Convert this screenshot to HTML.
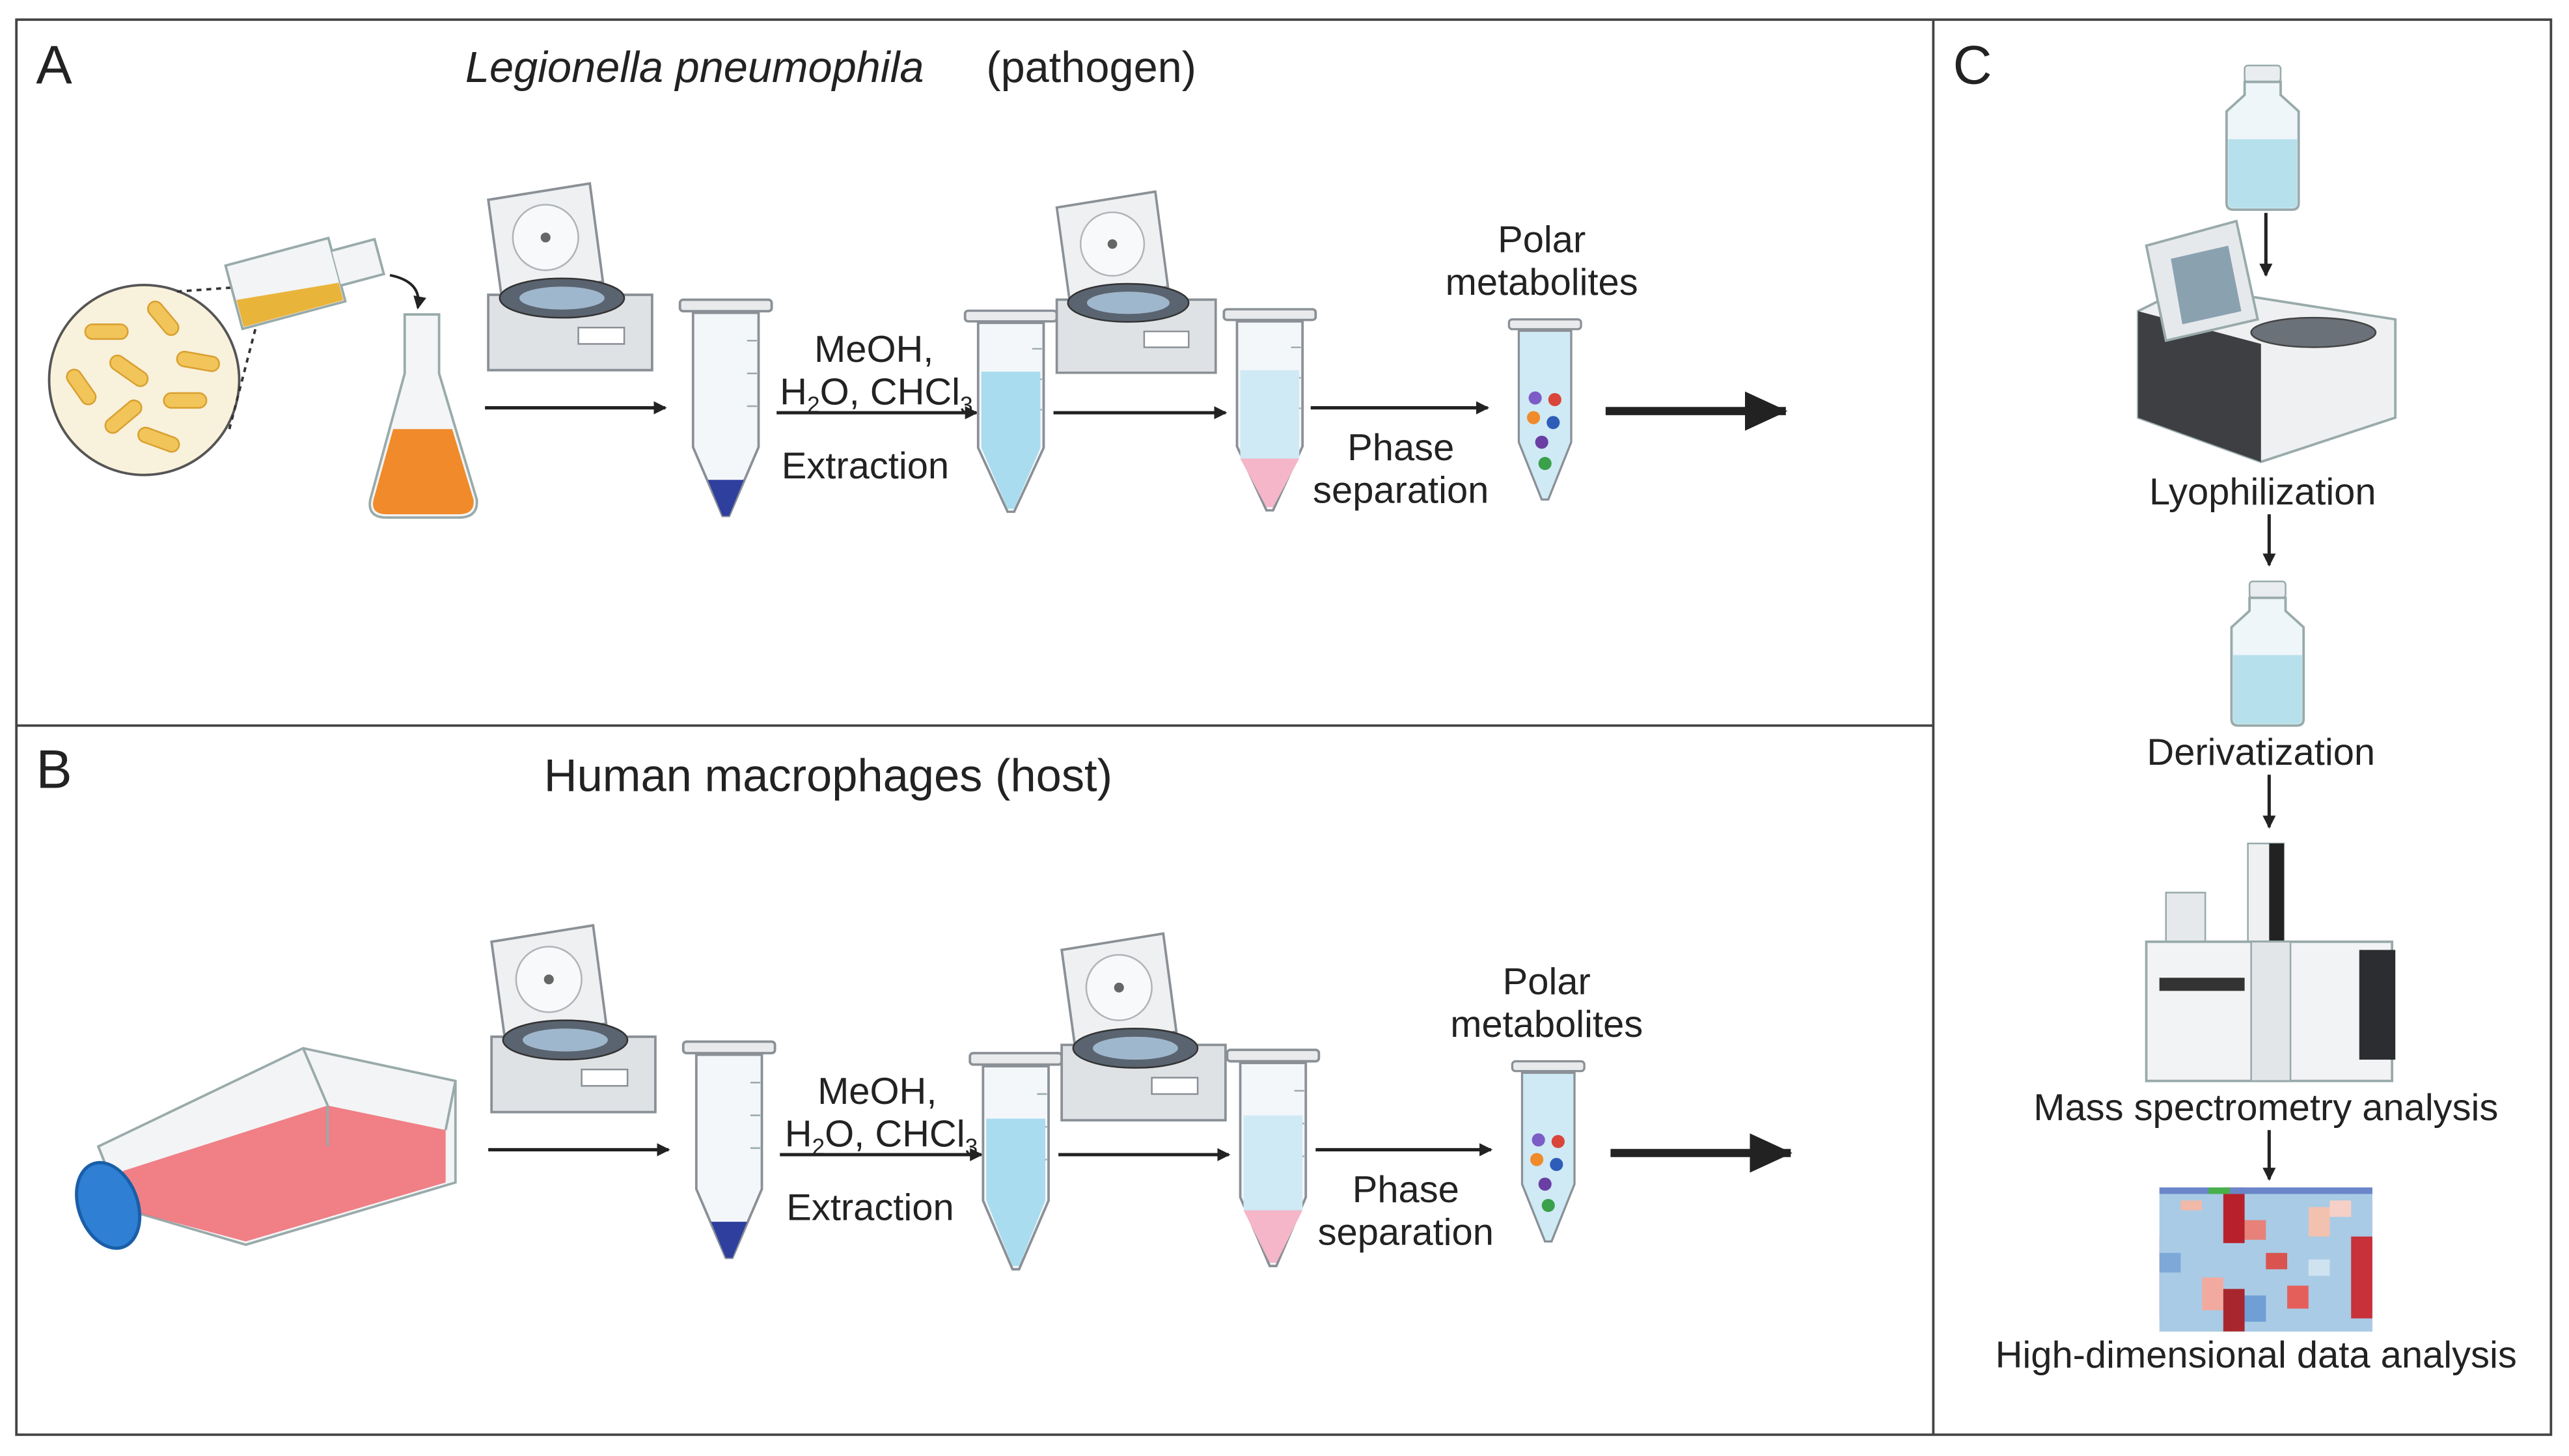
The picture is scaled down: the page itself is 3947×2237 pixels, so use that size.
<!DOCTYPE html>
<html><head><meta charset="utf-8"><style>
html,body{margin:0;padding:0;background:#fff;}
svg{display:block;}
text{font-family:"Liberation Sans",Arial,sans-serif;fill:#222;}
</style></head><body>
<svg width="3947" height="2237" viewBox="0 0 1568 889" preserveAspectRatio="none" xmlns="http://www.w3.org/2000/svg">
<defs>
<marker id="ah" markerWidth="8" markerHeight="8" refX="7" refY="4" orient="auto" markerUnits="userSpaceOnUse"><path d="M0,0 L8,4 L0,8 z" fill="#222"/></marker>
<marker id="ahb" markerWidth="26" markerHeight="24" refX="25" refY="12" orient="auto" markerUnits="userSpaceOnUse"><path d="M0,0 L26,12 L0,24 z" fill="#222"/></marker>
<g id="tube">
 <rect x="-3" y="0" width="56" height="7" rx="2" fill="#e8eaec" stroke="#8a9096" stroke-width="1.5"/>
 <path d="M5,8 L45,8 L45,90 L27,132 L23,132 L5,90 Z" fill="#f4f7fa" stroke="#8a9096" stroke-width="1.5"/>
 <line x1="38" y1="25" x2="44" y2="25" stroke="#9aa" /><line x1="38" y1="45" x2="44" y2="45" stroke="#9aa"/><line x1="38" y1="65" x2="44" y2="65" stroke="#9aa"/>
</g>
<g id="tubeB"><use href="#tube"/><path d="M14,110 L36,110 L27,132 L23,132 Z" fill="#2e3f9e"/></g>
<g id="tubeL"><use href="#tube"/><path d="M7,40 L43,40 L43,90 L27,130 L23,130 L7,90 Z" fill="#a9dcef"/></g>
<g id="tubeP"><use href="#tube"/><path d="M7,40 L43,40 L43,98 L7,98 Z" fill="#cfeaf5"/><path d="M7,98 L43,98 L27,130 L23,130 Z" fill="#f4b6c8"/></g>
<g id="tubeS">
 <rect x="-2" y="0" width="44" height="6" rx="2" fill="#e8eaec" stroke="#8a9096" stroke-width="1.3"/>
 <path d="M4,7 L36,7 L36,75 L22,110 L18,110 L4,75 Z" fill="#cfeaf5" stroke="#8a9096" stroke-width="1.3"/>
 <circle cx="14" cy="48" r="4" fill="#7c5cc7"/><circle cx="26" cy="49" r="4" fill="#d9453a"/>
 <circle cx="13" cy="60" r="4" fill="#f08a2a"/><circle cx="25" cy="63" r="4" fill="#2d5db8"/>
 <circle cx="18" cy="75" r="4" fill="#6a3fa3"/><circle cx="20" cy="88" r="4" fill="#3aa04a"/>
</g>
<g id="cent">
 <path d="M0,10 L62,0 L70,60 L8,68 Z" fill="#eef0f2" stroke="#8a9096" stroke-width="1.5"/>
 <circle cx="35" cy="33" r="20" fill="#f8f9fa" stroke="#b0b4b8"/><circle cx="35" cy="33" r="3" fill="#666"/>
 <path d="M0,68 L100,68 L100,114 L0,114 Z" fill="#dfe2e5" stroke="#8a9096" stroke-width="1.5"/>
 <ellipse cx="45" cy="70" rx="38" ry="12" fill="#5a6470" stroke="#333"/>
 <ellipse cx="45" cy="70" rx="26" ry="7" fill="#9fb7cc"/>
 <rect x="55" y="88" width="28" height="10" fill="#fff" stroke="#8a9096"/>
</g>
<g id="bottle">
 <rect x="13" y="0" width="22" height="10" rx="2" fill="#e9edef" stroke="#9aa"/>
 <path d="M13,10 L35,10 L35,18 L46,28 L46,84 Q46,88 42,88 L6,88 Q2,88 2,84 L2,28 L13,18 Z" fill="#eef6f9" stroke="#9aa" stroke-width="1.5"/>
 <path d="M3,45 L45,45 L45,84 Q45,87 42,87 L6,87 Q3,87 3,84 Z" fill="#b6e0ec"/>
</g>
<pattern id="hm" x="1318" y="725" width="130" height="88" patternUnits="userSpaceOnUse">
 <rect width="130" height="88" fill="#a9cbe6"/>
 <rect x="0" y="0" width="130" height="4" fill="#6a86c8"/>
 <rect x="30" y="0" width="13" height="4" fill="#48b04a"/>
 <rect x="13" y="8" width="13" height="6" fill="#f2b9a8"/><rect x="39" y="4" width="13" height="30" fill="#b8212b"/>
 <rect x="52" y="20" width="13" height="12" fill="#e7817a"/><rect x="91" y="12" width="13" height="18" fill="#f3c1b0"/>
 <rect x="117" y="30" width="13" height="50" fill="#c8303a"/><rect x="65" y="40" width="13" height="10" fill="#d9534f"/>
 <rect x="26" y="55" width="13" height="20" fill="#f2aaa0"/><rect x="0" y="40" width="13" height="12" fill="#7ea8d8"/>
 <rect x="78" y="60" width="13" height="14" fill="#e55f5a"/><rect x="104" y="8" width="13" height="10" fill="#f6d0c6"/>
 <rect x="52" y="66" width="13" height="16" fill="#6f9fd5"/><rect x="91" y="44" width="13" height="10" fill="#cfe2f0"/>
 <rect x="39" y="62" width="13" height="26" fill="#a8262e"/>
</pattern>
</defs>

<rect x="10" y="12" width="1547" height="864" fill="none" stroke="#444" stroke-width="1.5"/>
<line x1="1180" y1="12" x2="1180" y2="876" stroke="#444" stroke-width="1.5"/>
<line x1="10" y1="443" x2="1180" y2="443" stroke="#444" stroke-width="1.5"/>

<!-- Panel A -->
<text x="22" y="51" font-size="33">A</text>
<text x="284" y="50" font-size="26.5" font-style="italic">Legionella pneumophila</text>
<text x="602" y="50" font-size="26.5">(pathogen)</text>
<circle cx="88" cy="232" r="58" fill="#f8f1dc" stroke="#555" stroke-width="1.5"/>
<g fill="#f1c55a" stroke="#d9a030" stroke-width="1">
<rect x="52" y="198" width="26" height="9" rx="4.5"/><rect x="88" y="190" width="24" height="9" rx="4.5" transform="rotate(50 100 194)"/>
<rect x="108" y="216" width="26" height="9" rx="4.5" transform="rotate(10 120 220)"/><rect x="66" y="222" width="26" height="9" rx="4.5" transform="rotate(35 79 226)"/>
<rect x="38" y="232" width="24" height="9" rx="4.5" transform="rotate(55 50 236)"/><rect x="100" y="240" width="26" height="9" rx="4.5"/>
<rect x="62" y="250" width="26" height="9" rx="4.5" transform="rotate(-40 75 254)"/><rect x="84" y="264" width="26" height="9" rx="4.5" transform="rotate(20 97 268)"/>
</g>
<line x1="108" y1="178" x2="150" y2="175" stroke="#333" stroke-dasharray="3,3" stroke-width="1.5"/>
<line x1="140" y1="262" x2="160" y2="185" stroke="#333" stroke-dasharray="3,3" stroke-width="1.5"/>
<g transform="rotate(-15 185 165)">
<path d="M140,150 L205,150 L205,190 L140,190 Z" fill="#f2f4f5" stroke="#9aa" stroke-width="1.5"/>
<path d="M205,158 L232,158 L232,180 L205,180" fill="#f2f4f5" stroke="#9aa" stroke-width="1.5"/>
<path d="M141,172 L204,178 L204,189 L141,189 Z" fill="#e9b43a"/>
</g>
<path d="M238,168 Q258,172 255,188" fill="none" stroke="#222" stroke-width="1.5" marker-end="url(#ah)"/>
<path d="M247,192 L268,192 L268,228 L291,305 Q292,316 280,316 L236,316 Q224,316 226,305 L247,228 Z" fill="#f3f5f6" stroke="#9aa" stroke-width="1.5"/>
<path d="M240,262 L276,262 L289,305 Q290,314 280,314 L236,314 Q226,314 228,305 Z" fill="#f08a2a"/>
<use href="#cent" x="298" y="112"/>
<line x1="296" y1="249" x2="406" y2="249" stroke="#222" stroke-width="2" marker-end="url(#ah)"/>
<use href="#tubeB" x="418" y="183"/>
<text x="497" y="221" font-size="23">MeOH,</text>
<text x="476" y="247" font-size="23">H<tspan font-size="14" dy="5">2</tspan><tspan dy="-5">O, CHCl</tspan><tspan font-size="14" dy="5">3</tspan></text>
<line x1="474" y1="252" x2="596" y2="252" stroke="#222" stroke-width="2" marker-end="url(#ah)"/>
<text x="477" y="292" font-size="23">Extraction</text>
<use href="#tubeL" x="592" y="190" transform="scale(1,0.93) translate(0,14)"/>
<use href="#cent" x="645" y="117" transform="translate(645 117) scale(0.97) translate(-645 -117)"/>
<line x1="643" y1="252" x2="748" y2="252" stroke="#222" stroke-width="2" marker-end="url(#ah)"/>
<use href="#tubeP" x="750" y="188" transform="translate(0,14) scale(1,0.93)"/>
<line x1="800" y1="249" x2="908" y2="249" stroke="#222" stroke-width="2" marker-end="url(#ah)"/>
<text x="855" y="281" font-size="23" text-anchor="middle">Phase</text>
<text x="855" y="307" font-size="23" text-anchor="middle">separation</text>
<text x="941" y="154" font-size="23" text-anchor="middle">Polar</text>
<text x="941" y="180" font-size="23" text-anchor="middle">metabolites</text>
<use href="#tubeS" x="923" y="195"/>
<line x1="980" y1="251" x2="1090" y2="251" stroke="#222" stroke-width="5" marker-end="url(#ahb)"/>

<!-- Panel B -->
<text x="22" y="481" font-size="33">B</text>
<text x="332" y="483" font-size="28">Human macrophages (host)</text>
<path d="M60,700 L185,640 L278,660 L278,722 L150,760 L75,738 Z" fill="#f3f4f5" stroke="#9aa" stroke-width="1.5"/>
<path d="M75,738 L75,715 L200,675 L272,690 L272,722 L150,758 Z" fill="#ef6a72" opacity="0.85"/>
<path d="M60,700 L75,738 M185,640 L200,675 L200,700 M278,660 L272,690" stroke="#9aa" fill="none" stroke-width="1.5"/>
<ellipse cx="66" cy="736" rx="18" ry="27" fill="#2f7fd4" stroke="#1a5ea8" stroke-width="2" transform="rotate(-20 66 736)"/>
<use href="#cent" x="300" y="565"/>
<line x1="298" y1="702" x2="408" y2="702" stroke="#222" stroke-width="2" marker-end="url(#ah)"/>
<use href="#tubeB" x="420" y="636"/>
<text x="499" y="674" font-size="23">MeOH,</text>
<text x="479" y="700" font-size="23">H<tspan font-size="14" dy="5">2</tspan><tspan dy="-5">O, CHCl</tspan><tspan font-size="14" dy="5">3</tspan></text>
<line x1="476" y1="705" x2="599" y2="705" stroke="#222" stroke-width="2" marker-end="url(#ah)"/>
<text x="480" y="745" font-size="23">Extraction</text>
<use href="#tubeL" x="595" y="643"/>
<use href="#cent" x="648" y="570"/>
<line x1="646" y1="705" x2="750" y2="705" stroke="#222" stroke-width="2" marker-end="url(#ah)"/>
<use href="#tubeP" x="752" y="641"/>
<line x1="803" y1="702" x2="910" y2="702" stroke="#222" stroke-width="2" marker-end="url(#ah)"/>
<text x="858" y="734" font-size="23" text-anchor="middle">Phase</text>
<text x="858" y="760" font-size="23" text-anchor="middle">separation</text>
<text x="944" y="607" font-size="23" text-anchor="middle">Polar</text>
<text x="944" y="633" font-size="23" text-anchor="middle">metabolites</text>
<use href="#tubeS" x="925" y="648"/>
<line x1="983" y1="704" x2="1093" y2="704" stroke="#222" stroke-width="5" marker-end="url(#ahb)"/>

<!-- Panel C -->
<text x="1192" y="51" font-size="33">C</text>
<use href="#bottle" x="1357" y="40"/>
<line x1="1383" y1="130" x2="1383" y2="168" stroke="#222" stroke-width="2" marker-end="url(#ah)"/>
<path d="M1305,190 L1335,175 L1462,195 L1462,255 L1380,282 L1305,255 Z" fill="#eef0f2" stroke="#9aa" stroke-width="1.5"/>
<path d="M1305,190 L1305,255 L1380,282 L1380,210 Z" fill="#3d3f42"/>
<ellipse cx="1412" cy="203" rx="38" ry="9" fill="#6b7178" stroke="#444"/>
<path d="M1310,150 L1365,135 L1378,195 L1322,208 Z" fill="#e6e9ec" stroke="#9aa" stroke-width="1.5"/>
<path d="M1325,158 L1360,150 L1368,190 L1332,198 Z" fill="#8aa1b0"/>
<text x="1381" y="308" font-size="23" text-anchor="middle">Lyophilization</text>
<line x1="1385" y1="314" x2="1385" y2="345" stroke="#222" stroke-width="2" marker-end="url(#ah)"/>
<use href="#bottle" x="1360" y="355"/>
<text x="1380" y="467" font-size="23" text-anchor="middle">Derivatization</text>
<line x1="1385" y1="473" x2="1385" y2="505" stroke="#222" stroke-width="2" marker-end="url(#ah)"/>
<rect x="1372" y="515" width="22" height="62" fill="#eef0f2" stroke="#9aa"/>
<rect x="1385" y="515" width="9" height="62" fill="#222"/>
<rect x="1322" y="545" width="24" height="30" fill="#e6e9ec" stroke="#9aa"/>
<rect x="1310" y="575" width="150" height="85" fill="#f1f3f4" stroke="#9aa" stroke-width="1.5"/>
<rect x="1318" y="597" width="52" height="8" fill="#333"/>
<rect x="1374" y="575" width="24" height="85" fill="#e3e6e8" stroke="#9aa"/>
<rect x="1440" y="580" width="22" height="67" fill="#2b2d30"/>
<text x="1383" y="684" font-size="23" text-anchor="middle">Mass spectrometry analysis</text>
<line x1="1385" y1="690" x2="1385" y2="720" stroke="#222" stroke-width="2" marker-end="url(#ah)"/>
<rect x="1318" y="725" width="130" height="88" fill="url(#hm)"/>
<text x="1377" y="835" font-size="23" text-anchor="middle">High-dimensional data analysis</text>
</svg>
</body></html>
